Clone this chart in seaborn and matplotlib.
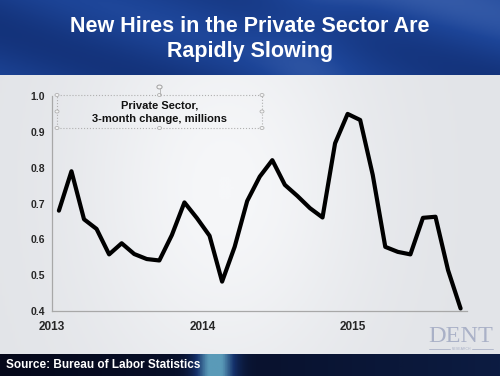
import numpy as np
import pandas as pd
import seaborn as sns
import matplotlib.pyplot as plt
from matplotlib.colors import LinearSegmentedColormap
from matplotlib.patches import Rectangle, Circle
from matplotlib.lines import Line2D

# Private sector, 3-month change in new hires (millions), Jan 2013 - Sep 2015
months = pd.date_range('2013-01-01', periods=33, freq='MS')
values = [0.68, 0.79, 0.656, 0.629, 0.558, 0.589, 0.559, 0.545, 0.541, 0.612,
          0.703, 0.659, 0.610, 0.482, 0.579, 0.707, 0.775, 0.821, 0.752, 0.721,
          0.687, 0.661, 0.868, 0.950, 0.933, 0.780, 0.579, 0.565, 0.558, 0.660,
          0.663, 0.514, 0.407]
year_ticks = [2013, 2014, 2015]
y_ticks = [0.4, 0.5, 0.6, 0.7, 0.8, 0.9, 1.0]

df = pd.DataFrame({'month': months, 'value': values})
df['x'] = df['month'].dt.year + (df['month'].dt.month - 0.45) / 12

sns.set_style('white')
plt.rcParams['font.family'] = ['Liberation Sans', 'DejaVu Sans']

fig = plt.figure(figsize=(5, 3.76), dpi=100)
fig.patch.set_facecolor('#eaebee')

# light background gradient
bg = fig.add_axes([0, 0, 1, 1], zorder=-2)
gx = np.linspace(0, 1, 200)
gy = np.linspace(0, 1, 150)
X, Y = np.meshgrid(gx, gy)
grad = 0.5 + 0.5 * np.exp(-((X - 0.45) ** 2) / 0.08 - ((Y - 0.5) ** 2) / 0.3)
bg.imshow(grad, cmap=LinearSegmentedColormap.from_list('bgc', ['#e2e4e8', '#f6f7f9']),
          aspect='auto', extent=[0, 1, 0, 1])
bg.axis('off')

# title banner
ban = fig.add_axes([0, 1 - 75 / 376, 1, 75 / 376], zorder=-1)
bx = np.linspace(0, 1, 300)
by = np.linspace(0, 1, 60)
BX, BY = np.meshgrid(bx, by)
bgrad = (0.35 + 0.12 * np.sin(BX * 9 - BY * 4) + 0.2 * BX * (1 - BY)
         + 0.12 * np.exp(-((BX - 0.62) ** 2) / 0.01))
ban.imshow(bgrad, cmap=LinearSegmentedColormap.from_list('ban', ['#0c2463', '#1d4598', '#6a8ccc']),
           aspect='auto', extent=[0, 1, 0, 1], vmin=0, vmax=1)
ban.axis('off')
fig.text(0.5, 1 - 26 / 376, 'New Hires in the Private Sector Are', ha='center', va='center',
         color='white', fontsize=15.5, fontweight='bold')
fig.text(0.5, 1 - 51 / 376, 'Rapidly Slowing', ha='center', va='center',
         color='white', fontsize=15.5, fontweight='bold')

# footer banner
foot = fig.add_axes([0, 0, 1, 22 / 376], zorder=-1)
fgrad = (np.exp(-((bx - 0.43) ** 2) / 0.0015) + 0.25 * bx)[None, :] * np.ones((10, 1))
foot.imshow(fgrad, cmap=LinearSegmentedColormap.from_list('foot', ['#05081a', '#14306a', '#5a9ab8']),
            aspect='auto', extent=[0, 1, 0, 1], vmin=0, vmax=1)
foot.axis('off')
fig.text(6 / 500, 11 / 376, 'Source: Bureau of Labor Statistics', ha='left', va='center',
         color='white', fontsize=8.5, fontweight='bold')

# DENT logo
fig.text(461 / 500, 1 - 336 / 376, 'DENT', ha='center', va='center', color='#aab1c7',
         fontsize=17.5, family='Liberation Serif')
fig.text(461 / 500, 1 - 349 / 376, 'RESEARCH', ha='center', va='center', color='#aab1c7',
         fontsize=2.5)
fig.lines.append(Line2D([429 / 500, 450 / 500], [1 - 349 / 376] * 2, transform=fig.transFigure,
                        color='#aab1c7', linewidth=0.6))
fig.lines.append(Line2D([472 / 500, 493 / 500], [1 - 349 / 376] * 2, transform=fig.transFigure,
                        color='#aab1c7', linewidth=0.6))

# main chart
ax = fig.add_axes([52 / 500, 1 - 311 / 376, (467 - 52) / 500, (311 - 96) / 376])
ax.set_facecolor('none')
sns.lineplot(data=df, x='x', y='value', color='black', linewidth=3.0, ax=ax)
ax.set_xlim(2013, 2015.755)
ax.set_ylim(0.4, 1.0)
ax.set_xticks(year_ticks)
ax.set_xticklabels([str(y) for y in year_ticks], fontweight='bold', fontsize=8.5)
ax.set_yticks(y_ticks)
ax.set_yticklabels([f'{v:.1f}' for v in y_ticks], fontweight='bold', fontsize=7.5)
ax.set_xlabel('')
ax.set_ylabel('')
for s in ['top', 'right']:
    ax.spines[s].set_visible(False)
for s in ['left', 'bottom']:
    ax.spines[s].set_color('#a8a8a8')
    ax.spines[s].set_linewidth(0.9)
ax.tick_params(axis='both', length=3, color='#a8a8a8', width=0.9, pad=2)
ax.tick_params(axis='x', pad=4)

# text box with selection handles
bx0, by0, bw, bh = 57 / 500, 1 - 128 / 376, 205 / 500, 33 / 376
fig.patches.append(Rectangle((bx0, by0), bw, bh, transform=fig.transFigure, fill=False,
                             edgecolor='#b0b0b0', linestyle=':', linewidth=0.8))
fig.lines.append(Line2D([bx0 + bw / 2] * 2, [by0 + bh, 1 - 88 / 376], transform=fig.transFigure,
                        color='#b0b0b0', linewidth=0.6))
fig.patches.append(Circle((bx0 + bw / 2, 1 - 87 / 376), 2.6 / 500, transform=fig.transFigure,
                          facecolor='#f4f4f4', edgecolor='#a0a0a0', linewidth=0.7))
for hx in [bx0, bx0 + bw / 2, bx0 + bw]:
    for hy in [by0, by0 + bh / 2, by0 + bh]:
        if hx == bx0 + bw / 2 and hy == by0 + bh / 2:
            continue
        fig.patches.append(Circle((hx, hy), 2 / 500, transform=fig.transFigure,
                                  facecolor='#f4f4f4', edgecolor='#b0b0b0', linewidth=0.6))
fig.text(bx0 + bw / 2, 1 - 106 / 376, 'Private Sector,', ha='center', va='center',
         fontsize=8, fontweight='bold', color='#111111')
fig.text(bx0 + bw / 2, 1 - 119 / 376, '3-month change, millions', ha='center', va='center',
         fontsize=8, fontweight='bold', color='#111111')

fig.savefig('out.png', dpi=100)
